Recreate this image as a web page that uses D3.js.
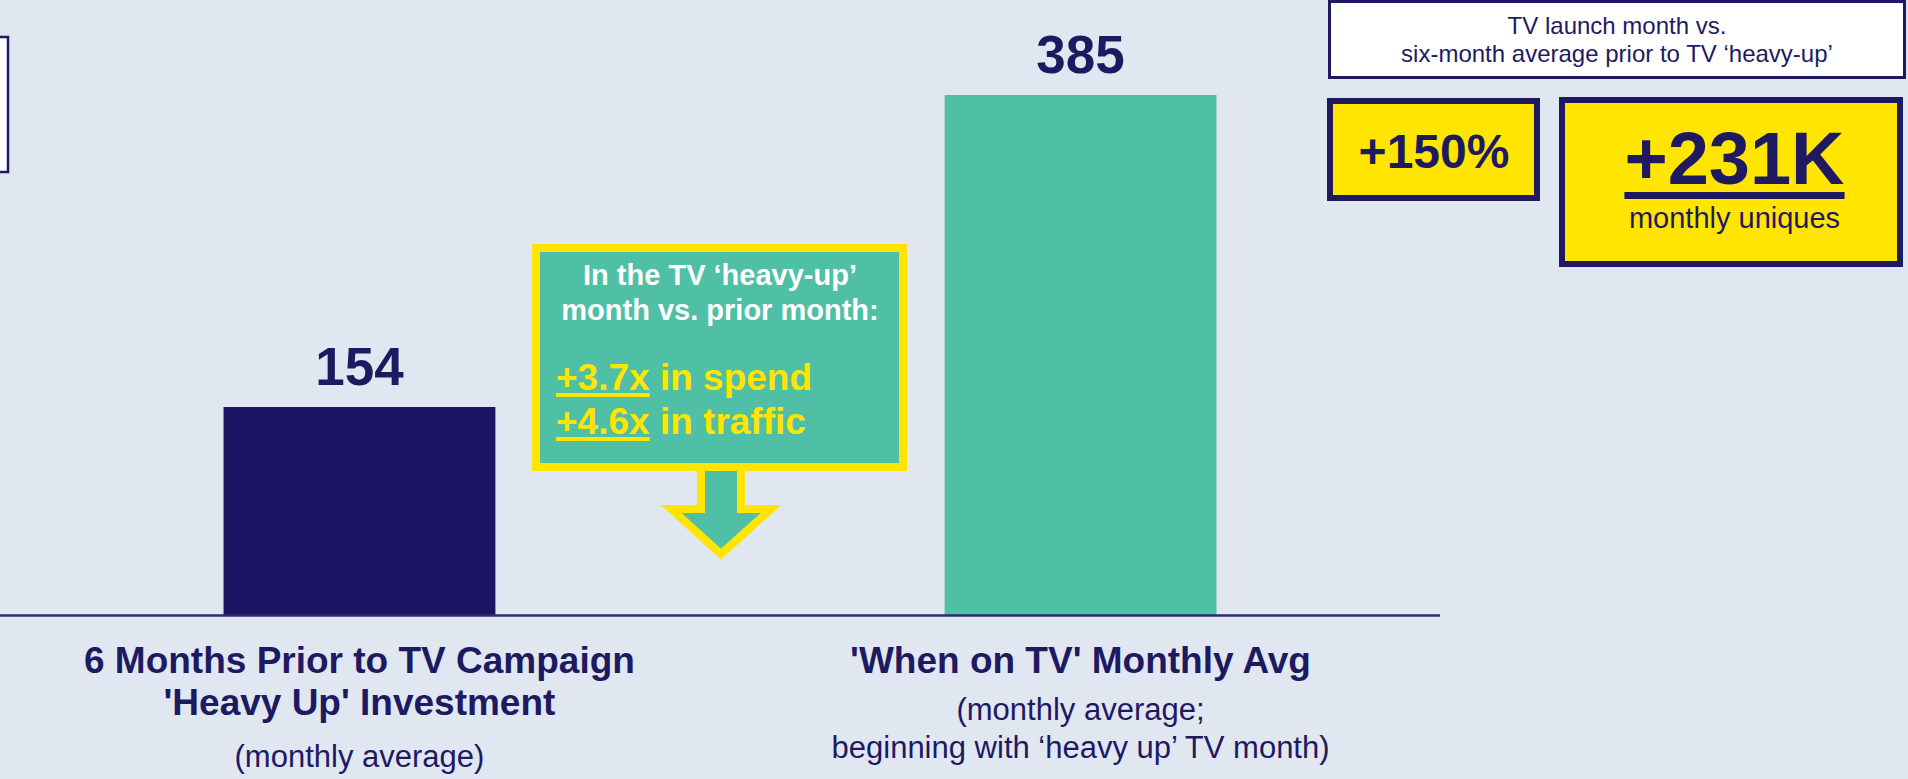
<!DOCTYPE html>
<html>
<head>
<meta charset="utf-8">
<script src="https://cdn.jsdelivr.net/npm/d3@7"></script>
<style>
  html, body { margin: 0; padding: 0; background: #e1e7f1; overflow: hidden; }
  svg { display: block; font-family: "Liberation Sans", Arial, sans-serif; }
</style>
</head>
<body>
<div id="chart"></div>
<script>
// chart data
var categories = ['prior', 'onTv'];
var values = [154, 385];
var barColors = ['#1b1464', '#4fbfa5'];
var titleLines = [
  ['6 Months Prior to TV Campaign', "'Heavy Up' Investment"],
  ["'When on TV' Monthly Avg"]
];
var noteLines = [
  ['(monthly average)'],
  ['(monthly average;', 'beginning with \u2018heavy up\u2019 TV month)']
];
var calloutHead = ['In the TV \u2018heavy-up\u2019', 'month vs. prior month:'];
var calloutStats = [['+3.7x', ' in spend'], ['+4.6x', ' in traffic']];
var compareHead = ['TV launch month vs.', 'six-month average prior to TV \u2018heavy-up\u2019'];
var liftPct = '+150%';
var liftAbs = '+231K';
var liftAbsLabel = 'monthly uniques';

(function() {
  var W = 1908, H = 779;
  var navy = '#1e1a62', yellow = '#ffe500', teal = '#4fbfa5';

  var svg = d3.select('#chart').append('svg')
    .attr('width', W).attr('height', H);

  svg.append('rect').attr('width', W).attr('height', H).attr('fill', '#e1e7f1');

  // Scales
  var x = d3.scaleBand()
    .domain(categories)
    .range([0, 1440])
    .paddingInner(0.623)
    .paddingOuter(0.31);

  var y = d3.scaleLinear()
    .domain([0, d3.max(values)])
    .range([615, 95]);

  // partial box at the left edge
  svg.append('rect')
    .attr('x', -100).attr('y', 37).attr('width', 108).attr('height', 135)
    .attr('fill', '#fff').attr('stroke', navy).attr('stroke-width', 2.5);

  // Bars
  svg.selectAll('.bar').data(values).enter().append('rect')
    .attr('class', 'bar')
    .attr('x', function(d, i) { return x(categories[i]); })
    .attr('y', function(d) { return y(d); })
    .attr('width', x.bandwidth())
    .attr('height', function(d) { return y(0) - y(d); })
    .attr('fill', function(d, i) { return barColors[i]; });

  // baseline
  svg.append('line')
    .attr('x1', 0).attr('x2', 1440)
    .attr('y1', y(0) + 0.5).attr('y2', y(0) + 0.5)
    .attr('stroke', '#2e2a6e').attr('stroke-width', 2.5);

  // value labels
  svg.selectAll('.val').data(values).enter().append('text')
    .attr('class', 'val')
    .attr('x', function(d, i) { return x(categories[i]) + x.bandwidth() / 2; })
    .attr('y', function(d) { return y(d) - 22; })
    .attr('text-anchor', 'middle')
    .attr('font-size', 53).attr('font-weight', 'bold').attr('fill', navy)
    .text(function(d) { return d; });

  // category labels
  categories.forEach(function(c, i) {
    var cx = x(c) + x.bandwidth() / 2;
    var by = 673;
    titleLines[i].forEach(function(t) {
      svg.append('text').attr('x', cx).attr('y', by)
        .attr('text-anchor', 'middle')
        .attr('font-size', 37).attr('font-weight', 'bold').attr('fill', navy)
        .text(t);
      by += 42;
    });
    by = titleLines[i].length > 1 ? 767 : 720;
    noteLines[i].forEach(function(t) {
      svg.append('text').attr('x', cx).attr('y', by)
        .attr('text-anchor', 'middle')
        .attr('font-size', 31).attr('fill', navy)
        .text(t);
      by += 38;
    });
  });

  // Callout arrow and box
  var ax = 721;
  var arrow = [[ax - 20, 467], [ax - 20, 509], [ax - 50, 509], [ax, 554],
               [ax + 50, 509], [ax + 20, 509], [ax + 20, 467]];
  svg.append('path')
    .attr('d', d3.line()(arrow) + 'Z')
    .attr('fill', teal).attr('stroke', yellow).attr('stroke-width', 8)
    .attr('stroke-linejoin', 'miter');

  svg.append('rect')
    .attr('x', 536).attr('y', 248).attr('width', 367).attr('height', 219)
    .attr('fill', teal).attr('stroke', yellow).attr('stroke-width', 8);

  calloutHead.forEach(function(t, i) {
    svg.append('text').attr('x', 720).attr('y', 285 + i * 35)
      .attr('text-anchor', 'middle')
      .attr('font-size', 29).attr('font-weight', 'bold').attr('fill', '#fff')
      .text(t);
  });

  calloutStats.forEach(function(s, i) {
    var by = 390 + i * 44;
    var a = svg.append('text').attr('x', 556).attr('y', by)
      .attr('font-size', 37).attr('font-weight', 'bold').attr('fill', yellow)
      .text(s[0]);
    var wA = a.node().getComputedTextLength();
    svg.append('text').attr('x', 556 + wA).attr('y', by)
      .attr('font-size', 37).attr('font-weight', 'bold').attr('fill', yellow)
      .attr('xml:space', 'preserve').style('white-space', 'pre')
      .text(s[1]);
    svg.append('rect').attr('x', 556).attr('y', by + 3)
      .attr('width', wA).attr('height', 4).attr('fill', yellow);
  });

  // Right side summary boxes
  svg.append('rect')
    .attr('x', 1329.5).attr('y', 1.5).attr('width', 575).attr('height', 76)
    .attr('fill', '#fff').attr('stroke', navy).attr('stroke-width', 3);
  compareHead.forEach(function(t, i) {
    svg.append('text').attr('x', 1617).attr('y', 34 + i * 28)
      .attr('text-anchor', 'middle')
      .attr('font-size', 24).attr('fill', navy)
      .text(t);
  });

  svg.append('rect')
    .attr('x', 1330).attr('y', 101).attr('width', 207).attr('height', 97)
    .attr('fill', yellow).attr('stroke', navy).attr('stroke-width', 6);
  svg.append('text').attr('x', 1434).attr('y', 168)
    .attr('text-anchor', 'middle')
    .attr('font-size', 48).attr('font-weight', 'bold').attr('fill', navy)
    .text(liftPct);

  svg.append('rect')
    .attr('x', 1562).attr('y', 100).attr('width', 338).attr('height', 164)
    .attr('fill', yellow).attr('stroke', navy).attr('stroke-width', 6);
  var big = svg.append('text').attr('x', 1734.5).attr('y', 184)
    .attr('text-anchor', 'middle')
    .attr('font-size', 74).attr('font-weight', 'bold').attr('fill', navy)
    .text(liftAbs);
  var wBig = big.node().getComputedTextLength();
  svg.append('rect').attr('x', 1734.5 - wBig / 2).attr('y', 192)
    .attr('width', wBig).attr('height', 7).attr('fill', navy);
  svg.append('text').attr('x', 1734.5).attr('y', 228)
    .attr('text-anchor', 'middle')
    .attr('font-size', 29).attr('fill', navy)
    .text(liftAbsLabel);
})();
</script>
</body>
</html>
